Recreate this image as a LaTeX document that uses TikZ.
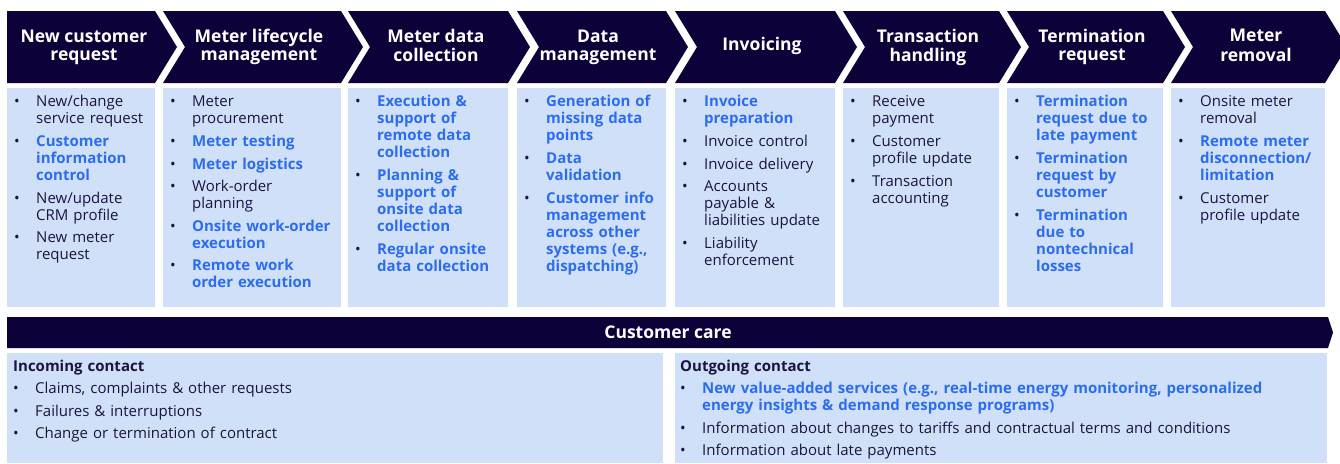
\documentclass[tikz,border=0pt]{standalone}
\usepackage{fontspec}
\setmainfont{Open Sans}
\definecolor{navy}{HTML}{0E0039}
\definecolor{lightbox}{HTML}{D0E0F8}
\definecolor{hiblue}{HTML}{2C6DF0}
\definecolor{dk}{HTML}{1B1440}
\newcommand\bodyfont{\fontsize{15}{17}\selectfont}
\newcommand\nl{\hfil\break}
\newcommand\itx[2]{\par\noindent\hangindent=22pt\hangafter=1\strut\makebox[22pt][l]{\color{dk}\textbullet}{\let\\\nl\color{#1}#2}\par}
\newcommand\itd[1]{\itx{dk}{#1}}
\newcommand\itb[1]{\itx{hiblue}{\bfseries #1}}
\newcommand\twol[2]{\strut #1\\\strut #2}
\tikzset{
  chevtitle/.style={text=white, font=\bfseries\fontsize{17.5}{18}\selectfont, align=center, inner sep=0pt},
  colbox/.style={anchor=north west, inner sep=0pt, text width=220pt, align=left,
    font=\bodyfont\setlength{\parskip}{5.6pt}, text=dk},
  boxfill/.style={fill=lightbox},
  navyfill/.style={fill=navy}
}
\begin{document}
\begin{tikzpicture}[x=1pt,y=-1pt]
\useasboundingbox (0,0) rectangle (1340,463);
% chevrons
\fill[navyfill] (7,11) -- (155,11) -- (177,47) -- (155,83) -- (7,83) -- cycle;
\foreach \lx/\rx in {163/341,348/508,517/666,675/835,843/999,1007/1163,1171/1325}{
  \fill[navyfill] (\lx,11) -- (\rx,11) -- (\rx+22,47) -- (\rx,83) -- (\lx,83) -- (\lx+22,47) -- cycle;
}
\node[chevtitle] (t1) at (84,48) {\twol{New customer}{request}};
\node[chevtitle] (t2) at (259,48) {\twol{Meter lifecycle}{management}};
\node[chevtitle] (t3) at (436,48) {\twol{Meter data}{collection}};
\node[chevtitle] (t4) at (598,48) {\twol{Data}{management}};
\node[chevtitle] (t5) at (762,47) {\strut Invoicing};
\node[chevtitle] (t6) at (928,48) {\twol{Transaction}{handling}};
\node[chevtitle] (t7) at (1092,48) {\twol{Termination}{request}};
\node[chevtitle] (t8) at (1256,48) {\twol{Meter}{removal}};
% content boxes
\foreach \lx/\rx in {7/155,163/341,348/508,517/666,675/835,843/999,1007/1163,1171/1325}{
  \fill[boxfill] (\lx,88) rectangle (\rx,307);
}
\node[colbox] (c1) at (14,84) {%
\itd{New/change\\service request}
\itb{Customer\\information\\control}
\itd{New/update\\CRM profile}
\itd{New meter\\request}};
\node[colbox] (c2) at (170,84) {%
\itd{Meter\\procurement}
\itb{Meter testing}
\itb{Meter logistics}
\itd{Work-order\\planning}
\itb{Onsite work-order\\execution}
\itb{Remote work\\order execution}};
\node[colbox] (c3) at (355,84) {%
\itb{Execution \&\\support of\\remote data\\collection}
\itb{Planning \&\\support of\\onsite data\\collection}
\itb{Regular onsite\\data collection}};
\node[colbox] (c4) at (524,84) {%
\itb{Generation of\\missing data\\points}
\itb{Data\\validation}
\itb{Customer info\\management\\across other\\systems (e.g.,\\dispatching)}};
\node[colbox] (c5) at (682,84) {%
\itb{Invoice\\preparation}
\itd{Invoice control}
\itd{Invoice delivery}
\itd{Accounts\\payable \&\\liabilities update}
\itd{Liability\\enforcement}};
\node[colbox] (c6) at (850,84) {%
\itd{Receive\\payment}
\itd{Customer\\profile update}
\itd{Transaction\\accounting}};
\node[colbox] (c7) at (1014,84) {%
\itb{Termination\\request due to\\late payment}
\itb{Termination\\request by\\customer}
\itb{Termination\\due to\\nontechnical\\losses}};
\node[colbox] (c8) at (1178,84) {%
\itd{Onsite meter\\removal}
\itb{Remote meter\\disconnection/\\limitation}
\itd{Customer\\profile update}};
% customer care bar
\fill[navyfill] (7,317) -- (1328,317) -- (1333,332.5) -- (1328,348) -- (7,348) -- cycle;
\node[chevtitle] (cc) at (668,332) {Customer care};
% bottom boxes
\fill[boxfill] (7,353) rectangle (663,463);
\fill[boxfill] (675,353) rectangle (1327,463);
\node[colbox, text width=640pt] (inc) at (13,359) {%
{\bfseries Incoming contact\strut}\par
\itd{Claims, complaints \& other requests}
\itd{Failures \& interruptions}
\itd{Change or termination of contract}};
\node[colbox, text width=640pt] (out) at (680,359) {%
{\bfseries Outgoing contact\strut}\par
\itb{New value-added services (e.g., real-time energy monitoring, personalized\\energy insights \& demand response programs)}
\itd{Information about changes to tariffs and contractual terms and conditions}
\itd{Information about late payments}};
\end{tikzpicture}
\end{document}
